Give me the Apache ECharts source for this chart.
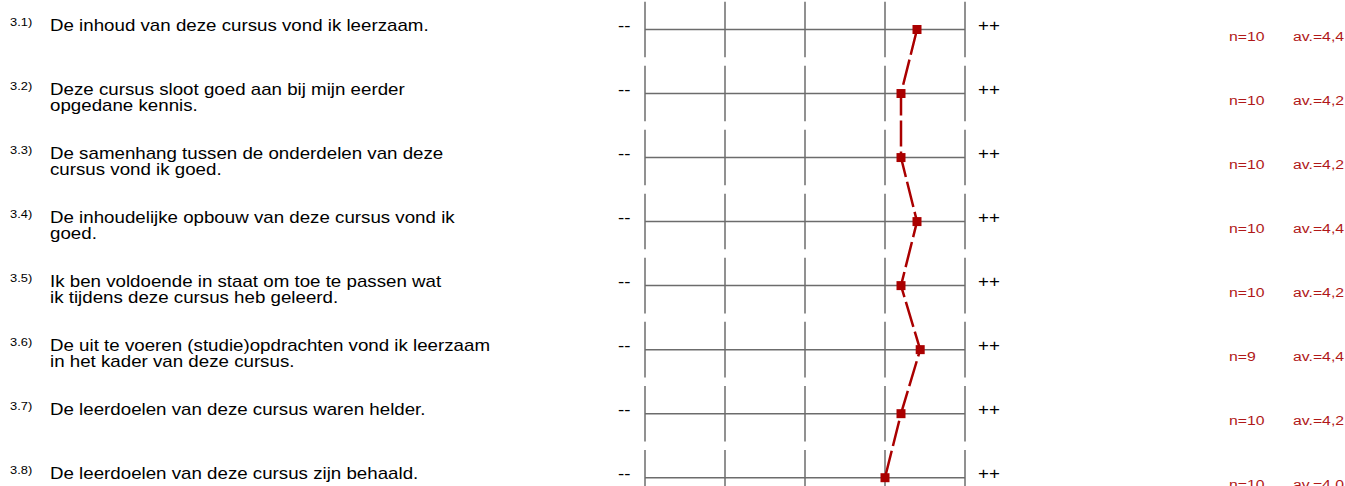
<!DOCTYPE html>
<html>
<head>
<meta charset="utf-8">
<script src="https://cdn.jsdelivr.net/npm/echarts@6/dist/echarts.min.js"></script>
<style>
  html, body { margin: 0; padding: 0; background: #fff; }
  #chart { width: 1345px; height: 486px; }
</style>
</head>
<body>
<div id="chart"></div>
<script>
// question numbers and texts (line breaks as in the report)
const itemNumbers = ['3.1)', '3.2)', '3.3)', '3.4)', '3.5)', '3.6)', '3.7)', '3.8)']
const questions = [
  'De inhoud van deze cursus vond ik leerzaam.',
  'Deze cursus sloot goed aan bij mijn eerder\nopgedane kennis.',
  'De samenhang tussen de onderdelen van deze\ncursus vond ik goed.',
  'De inhoudelijke opbouw van deze cursus vond ik\ngoed.',
  'Ik ben voldoende in staat om toe te passen wat\nik tijdens deze cursus heb geleerd.',
  'De uit te voeren (studie)opdrachten vond ik leerzaam\nin het kader van deze cursus.',
  'De leerdoelen van deze cursus waren helder.',
  'De leerdoelen van deze cursus zijn behaald.'
]
const nValues = [10, 10, 10, 10, 10, 9, 10, 10]
const averages = [4.4, 4.2, 4.2, 4.4, 4.2, 4.44, 4.2, 4.0]
const scaleTicks = [1, 2, 3, 4, 5]
const lowLabel = '--'
const highLabel = '++'

const rows = questions.map((q, i) => i)
const linePoints = averages.map((v, i) => [v, i])

const gridColor = '#6c6c6c'
const red = '#aa0000'
const textRed = '#b01818'
const stretch = 1.17  // the report text is slightly wide
const halfCell = 0.434

const chart = echarts.init(document.getElementById('chart'), null, { renderer: 'svg' })

const txt = (text, x, y, size, color, extra) => ({
  type: 'text',
  x: x,
  y: y,
  scaleX: stretch,
  style: Object.assign({
    text: text,
    fill: color,
    font: size + 'px "Liberation Sans", Arial, sans-serif',
    align: 'left',
    verticalAlign: 'middle'
  }, extra || {})
})

const renderRow = (params, api) => {
  const i = api.value(0)
  const left = api.coord([scaleTicks[0], i])
  const right = api.coord([scaleTicks[scaleTicks.length - 1], i])
  const half = api.size([0, halfCell])[1]
  const cy = left[1]
  const children = []
  children.push({
    type: 'line',
    shape: { x1: left[0], y1: cy, x2: right[0], y2: cy },
    style: { stroke: gridColor, lineWidth: 1.5 }
  })
  scaleTicks.forEach(t => {
    const p = api.coord([t, i])
    children.push({
      type: 'line',
      shape: { x1: p[0], y1: cy - half, x2: p[0], y2: cy + half },
      style: { stroke: gridColor, lineWidth: 1.5 }
    })
  })
  children.push(txt(itemNumbers[i], 10, cy - 13, 11, '#000', { verticalAlign: 'top' }))
  children.push(txt(questions[i], 50, cy - 12, 16, '#000', { verticalAlign: 'top', lineHeight: 16 }))
  children.push(txt(lowLabel, left[0] - 27, cy - 4, 16, '#000'))
  children.push(txt(highLabel, right[0] + 13, cy - 4, 16, '#000'))
  children.push(txt('n=' + nValues[i], 1229, cy + 7, 13.5, textRed))
  children.push(txt('av.=' + averages[i].toFixed(1).replace('.', ','), 1293, cy + 7, 13.5, textRed))
  return { type: 'group', children: children }
}

chart.setOption({
  animation: false,
  grid: { left: 645, right: 380, top: 29.5, bottom: 8.3 },
  xAxis: { type: 'value', min: 1, max: 5, show: false },
  yAxis: { type: 'value', min: 0, max: 7, inverse: true, show: false },
  series: [
    {
      type: 'custom',
      data: rows,
      encode: { y: 0 },
      renderItem: renderRow,
      clip: false,
      silent: true,
      z: 1
    },
    {
      type: 'line',
      data: linePoints,
      symbol: 'rect',
      symbolSize: 9,
      showSymbol: true,
      lineStyle: { color: red, width: 2.5, type: [26, 5] },
      itemStyle: { color: red },
      z: 3
    }
  ]
})
</script>
</body>
</html>
